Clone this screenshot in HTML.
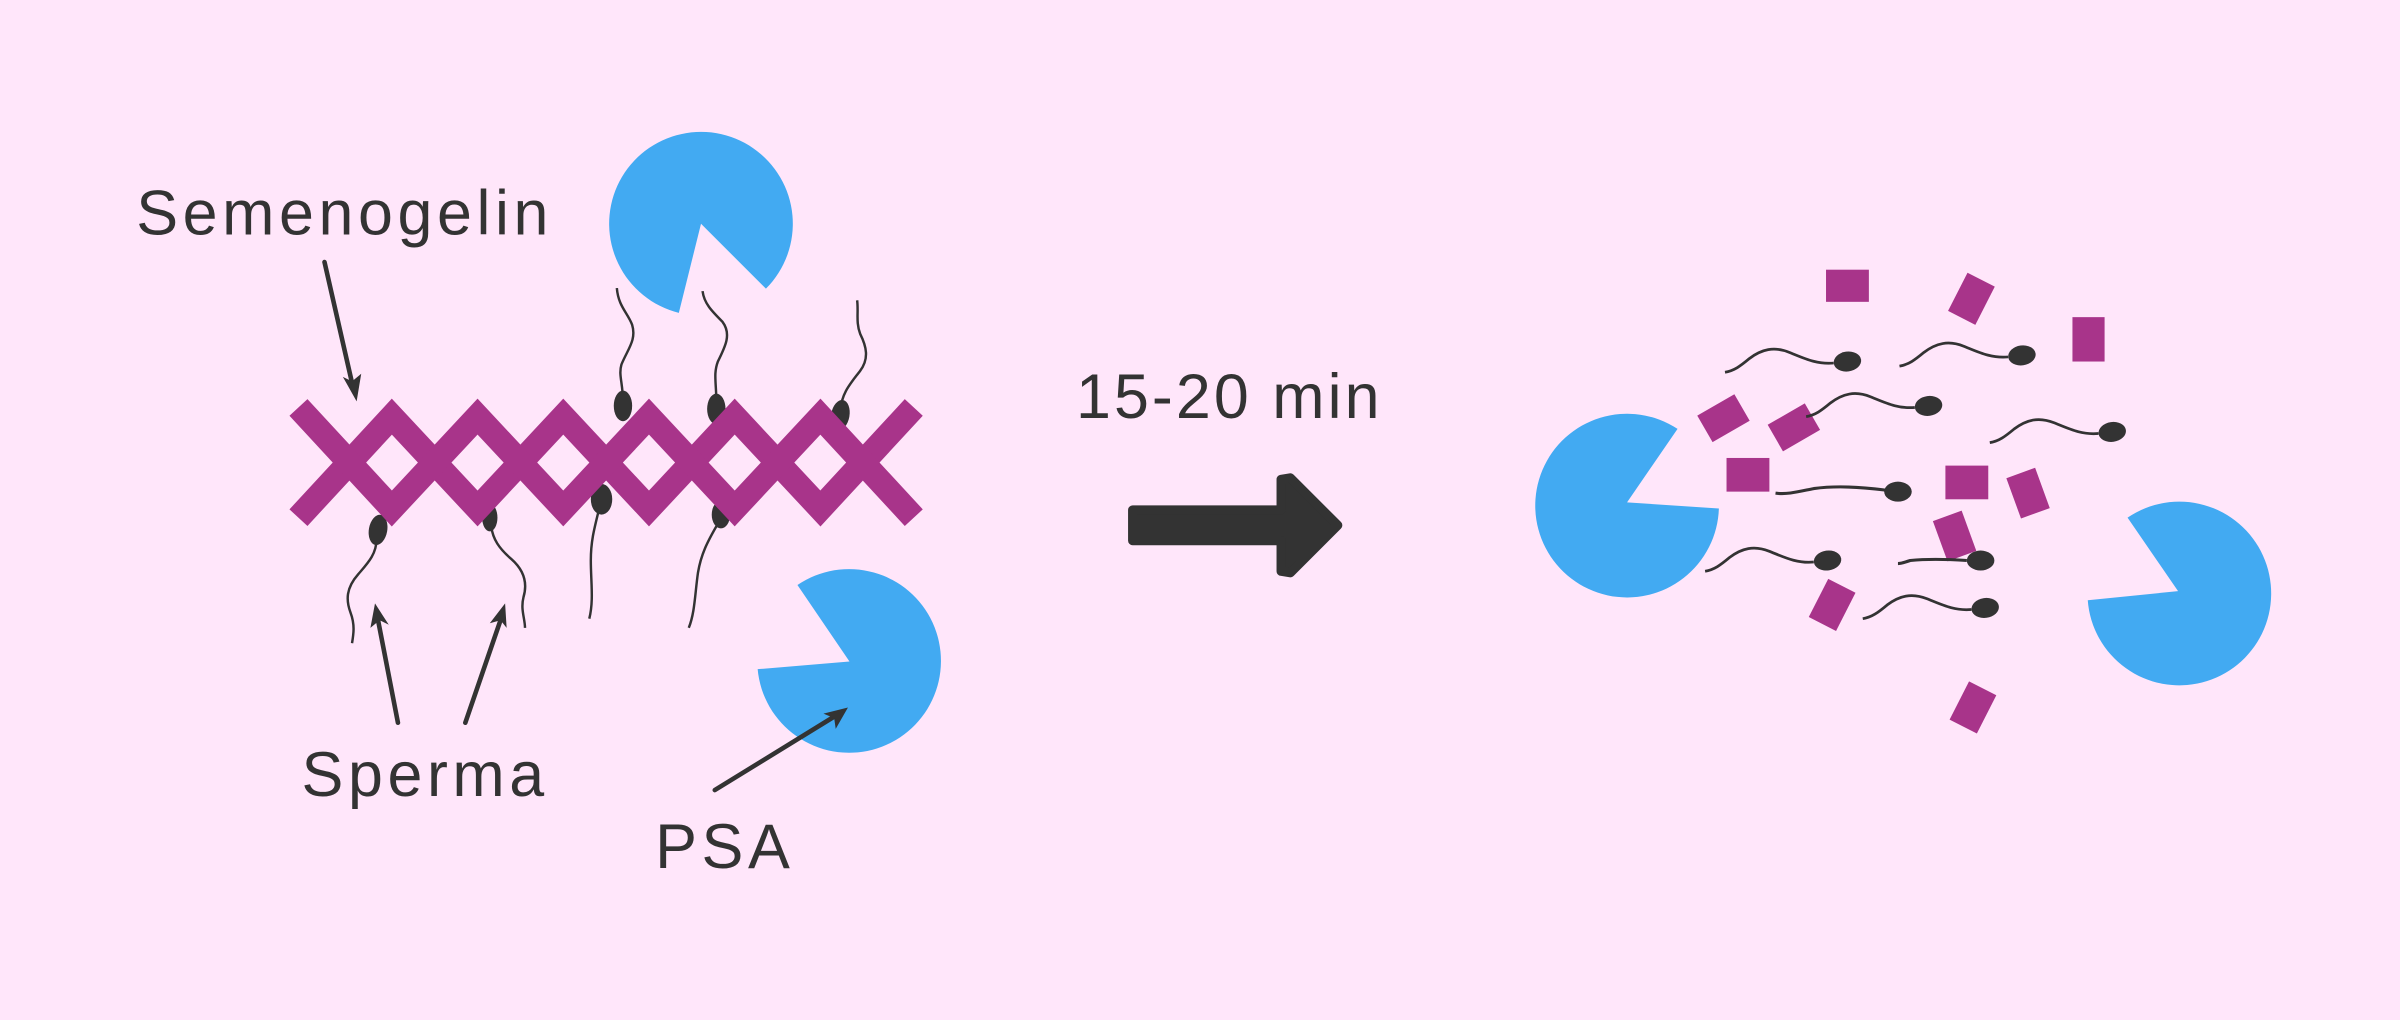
<!DOCTYPE html>
<html><head><meta charset="utf-8"><style>
html,body{margin:0;padding:0;background:#FFE6FA;}
svg{display:block}
text{font-family:"Liberation Sans",sans-serif;fill:#333;}
</style></head><body>
<svg width="2400" height="1020" viewBox="0 0 1568 666" xmlns="http://www.w3.org/2000/svg">
<defs>
<g id="rs">
<path d="M-9,1 C-20,2 -28,-2 -38,-6 C-48,-10 -56,-8 -64,-2 C-70,3 -74,6 -80,7" fill="none" stroke="#333" stroke-width="1.8"/>
<ellipse cx="0" cy="0" rx="9" ry="6.5" transform="rotate(-8)" fill="#333"/>
</g>
</defs>
<rect width="1568" height="666" fill="#FFE6FA"/>

<path d="M458,146 L443.5,204.2 A60,60 0 1 1 500.4,188.4 Z" fill="#42AAF2"/>
<path d="M555,432 L521,382 A60,60 0 1 1 495,437 Z" fill="#42AAF2"/>

<g fill="none" stroke="#333" stroke-width="1.6">
<path d="M407,262 C407,250 404,245 406,238 C410,228 416,222 413,212 C410,204 404,200 403,188"/>
<path d="M468,262 C468,250 466,244 469,236 C474,226 478,218 472,210 C465,203 460,198 459,190"/>
<path d="M549,268 C550,256 556,250 562,242 C568,234 566,226 562,218 C559,210 561,204 560,196"/>
<path d="M246,352 C246,362 240,368 234,375 C226,384 226,392 229,400 C232,408 231,414 230,420"/>
<path d="M321,344 C322,352 326,358 334,365 C342,372 345,380 342,390 C340,398 343,404 343,410"/>
<path d="M391,334 C388,346 386,354 386,366 C386,380 388,392 385,404"/>
<path d="M469,342 C462,354 458,362 456,374 C454,388 454,400 450,410"/>
</g>
<g fill="#333">
<ellipse cx="407" cy="265" rx="6" ry="10"/>
<ellipse cx="468" cy="267" rx="6" ry="10"/>
<ellipse cx="549" cy="271" rx="6" ry="10" transform="rotate(10 549 271)"/>
<ellipse cx="247" cy="346" rx="6" ry="10" transform="rotate(10 247 346)"/>
<ellipse cx="320" cy="338" rx="5" ry="9"/>
<ellipse cx="393" cy="326" rx="7" ry="10"/>
<ellipse cx="471" cy="336" rx="6" ry="9"/>
</g>

<g fill="none" stroke="#A8348A" stroke-width="16" stroke-linejoin="miter" stroke-miterlimit="10">
<path d="M195,338 L256,272 L312,332 L368,272 L424,332 L480,272 L536,332 L597,266"/>
<path d="M195,266 L256,332 L312,272 L368,332 L424,272 L480,332 L536,272 L597,338"/>
</g>

<text x="89" y="153" font-size="41" letter-spacing="3">Semenogelin</text>
<text x="197" y="520" font-size="41" letter-spacing="3">Sperma</text>
<text x="428" y="567" font-size="41" letter-spacing="3">PSA</text>
<text x="703" y="273" font-size="41" letter-spacing="2">15-20 min</text>

<g stroke="#333" stroke-width="3" stroke-linecap="round">
<line x1="212" y1="171" x2="230" y2="250"/>
<line x1="260" y1="472" x2="247" y2="405"/>
<line x1="304" y1="472" x2="327" y2="405"/>
<line x1="467" y1="516" x2="545" y2="468"/>
</g>
<g fill="#333">
<path d="M233,262 L224,246 L230,249 L236,244 Z"/>
<path d="M245,394 L254,408 L248,405 L242,410 Z"/>
<path d="M330,394 L331,410 L327,405 L320,407 Z"/>
<path d="M554,462 L546,476 L545,469 L538,466 Z"/>
</g>

<path d="M740,333 L837,333 L837,313 L843,312 L874,343 L843,374 L837,373 L837,353 L740,353 Z" fill="#333" stroke="#333" stroke-width="6" stroke-linejoin="round"/>

<path d="M1063,328 L1096,280 A60,60 0 1 0 1123,332 Z" fill="#42AAF2"/>
<path d="M1423,386 L1390,338 A60,60 0 1 1 1364,392 Z" fill="#42AAF2"/>

<g fill="#A8348A">
<rect x="1193" y="176" width="28" height="21"/>
<rect x="1354" y="207" width="21" height="29"/>
<rect x="1128" y="299" width="28" height="22"/>
<rect x="1271" y="304" width="28" height="22"/>
<rect x="-10" y="-14" width="20" height="28" transform="translate(1288,195) rotate(27)"/>
<rect x="-14" y="-10" width="28" height="20" transform="translate(1126,273) rotate(-30)"/>
<rect x="-14" y="-10" width="28" height="20" transform="translate(1172,279) rotate(-30)"/>
<rect x="-10" y="-14" width="20" height="28" transform="translate(1325,322) rotate(-20)"/>
<rect x="-10" y="-14" width="20" height="28" transform="translate(1277,350) rotate(-20)"/>
<rect x="-10" y="-14" width="20" height="28" transform="translate(1197,395) rotate(27)"/>
<rect x="-10" y="-14" width="20" height="28" transform="translate(1289,462) rotate(27)"/>
</g>

<use href="#rs" x="1207" y="236"/>
<use href="#rs" x="1321" y="232"/>
<use href="#rs" x="1260" y="265"/>
<use href="#rs" x="1380" y="282"/>
<use href="#rs" x="1194" y="366"/>
<use href="#rs" x="1297" y="397"/>
<g>
<path d="M1232,320 C1215,318 1200,317 1185,319 C1175,321 1168,323 1160,322" fill="none" stroke="#333" stroke-width="2"/>
<ellipse cx="1240" cy="321" rx="9" ry="6.5" fill="#333"/>
<path d="M1285,366 C1270,365 1258,365 1248,366 C1245,367 1242,368 1240,368" fill="none" stroke="#333" stroke-width="2"/>
<ellipse cx="1294" cy="366" rx="9" ry="6.5" fill="#333"/>
</g>
</svg>
</body></html>
